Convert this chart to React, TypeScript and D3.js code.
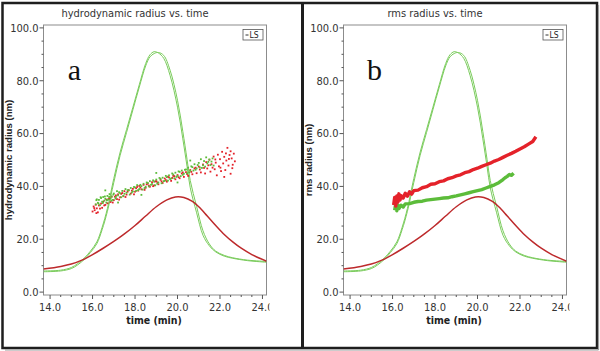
import React from 'react'
import * as d3 from 'd3'

// LS detector trace (two overlaid runs) and RI trace, plotted on the radius axis
const lsTime = [13.69, 14.5, 15.0, 15.3, 15.6, 15.9, 16.2, 16.45, 16.7, 17.0, 17.3, 17.6, 17.9, 18.2, 18.5, 18.7, 18.9, 19.1, 19.35, 19.65, 20.0, 20.25, 20.45, 20.6, 20.9, 21.2, 21.5, 21.8, 22.2, 22.6, 23.3, 24.19]
const lsRun1 = [8.0, 8.3, 9.3, 10.8, 12.8, 15.5, 19.0, 24.5, 31.7, 43.0, 53.0, 61.5, 70.0, 78.5, 86.5, 89.8, 91.0, 90.5, 88.5, 82.0, 70.0, 58.0, 47.5, 39.5, 30.0, 21.5, 17.5, 15.2, 13.6, 12.8, 11.9, 11.3]
const lsRun2 = [7.7, 8.0, 8.9, 10.3, 12.3, 15.0, 18.3, 23.6, 30.6, 41.5, 51.8, 60.4, 69.0, 77.6, 85.6, 89.0, 90.3, 90.7, 89.6, 84.0, 72.6, 60.8, 50.2, 42.2, 32.4, 23.2, 18.2, 15.5, 13.9, 13.0, 12.1, 11.6]

const riTime = [13.69, 14.5, 15.0, 15.5, 16.0, 16.5, 17.0, 17.5, 18.0, 18.5, 19.0, 19.5, 19.9, 20.3, 20.7, 21.0, 21.4, 21.8, 22.2, 22.6, 23.0, 23.5, 24.19]
const riValue = [8.7, 9.7, 10.6, 12.1, 14.2, 16.6, 19.2, 22.0, 25.2, 28.8, 32.3, 34.9, 36.0, 35.8, 34.3, 32.3, 28.8, 25.2, 21.8, 19.0, 16.6, 14.2, 11.7]

// panel a: hydrodynamic radius scatter
const rhGreenT = [16.15, 16.2, 16.25, 16.3, 16.35, 16.4, 16.45, 16.5, 16.55, 16.6, 16.65, 16.7, 16.75, 16.8, 16.85, 16.9, 16.95, 17.0, 17.1, 17.15, 17.2, 17.3, 17.35, 17.4, 17.5, 17.55, 17.6, 17.7, 17.75, 17.8, 17.9, 18.0, 18.05, 18.1, 18.2, 18.3, 18.35, 18.4, 18.5, 18.6, 18.65, 18.7, 18.8, 18.9, 18.95, 19.0, 19.1, 19.2, 19.25, 19.3, 19.4, 19.5, 19.55, 19.6, 19.7, 19.8, 19.85, 19.9, 20.0, 20.1, 20.15, 20.2, 20.3, 20.4, 20.45, 20.5, 20.6, 20.7, 20.75, 20.8, 20.9, 21.0, 21.05, 21.1, 21.2, 21.25, 21.3, 21.35, 21.4, 21.5, 21.55, 21.6, 21.7, 16.6, 17.2, 18.3, 19.0, 20.0, 20.6,
  16.18, 16.28, 16.38, 16.48, 16.58, 16.68, 16.78, 16.88, 16.98, 17.08, 17.25, 17.45, 17.65, 17.85, 17.95, 18.15, 18.25, 18.45, 18.55, 18.75, 18.85, 19.05, 19.15, 19.35, 19.45, 19.65, 19.75, 19.95, 20.05, 20.25, 20.35, 20.55, 20.65, 20.85, 20.95, 21.15, 21.45, 21.65]
const rhGreenV = [33.2, 35.1, 33.8, 34.9, 32.9, 35.6, 34.2, 36.0, 34.6, 35.3, 33.9, 36.4, 35.0, 37.1, 35.4, 36.2, 34.9, 37.3, 36.0, 38.2, 36.6, 37.4, 35.9, 38.3, 37.2, 39.0, 37.6, 38.5, 36.9, 39.4, 38.1, 39.6, 38.3, 40.5, 39.0, 40.1, 38.8, 41.0, 39.9, 41.3, 40.0, 42.0, 40.9, 41.8, 40.4, 42.6, 41.5, 42.9, 41.2, 43.3, 42.1, 43.5, 42.2, 44.2, 43.0, 44.5, 43.1, 45.2, 44.0, 45.5, 43.9, 46.0, 44.8, 46.4, 45.0, 47.1, 45.9, 47.3, 46.0, 48.4, 46.8, 48.9, 47.2, 50.3, 48.0, 49.6, 47.5, 51.0, 48.7, 50.2, 48.1, 49.4, 47.9, 38.5, 33.9, 36.8, 45.1, 41.5, 49.8,
  34.8, 33.5, 35.9, 33.7, 36.2, 34.8, 36.0, 34.6, 36.9, 35.4, 37.8, 36.4, 38.6, 37.7, 39.8, 38.6, 40.6, 39.4, 41.5, 40.6, 42.3, 41.0, 43.2, 42.0, 44.0, 42.8, 44.9, 43.6, 45.7, 44.4, 46.3, 45.3, 47.6, 46.3, 48.1, 47.0, 49.3, 50.6]
const rhRedT = [16.0, 16.05, 16.1, 16.15, 16.2, 16.25, 16.3, 16.4, 16.45, 16.5, 16.6, 16.65, 16.7, 16.8, 16.85, 16.9, 17.0, 17.1, 17.15, 17.2, 17.3, 17.4, 17.45, 17.5, 17.6, 17.7, 17.8, 17.9, 18.0, 18.1, 18.15, 18.2, 18.3, 18.4, 18.5, 18.6, 18.7, 18.8, 18.9, 19.0, 19.1, 19.2, 19.3, 19.4, 19.5, 19.6, 19.7, 19.8, 19.9, 20.0, 20.1, 20.2, 20.3, 20.4, 20.5, 20.6, 20.7, 20.8, 20.9, 21.0, 21.1, 21.2, 21.3, 21.35, 21.4, 21.5, 21.55, 21.6, 21.7, 21.75, 21.8, 21.85, 21.9, 21.95, 22.0, 22.05, 22.1, 22.15, 22.2, 22.25, 22.3, 22.35, 22.4, 22.45, 22.5, 22.55, 22.6, 22.65, 22.7, 22.2, 22.5,
  16.08, 16.18, 16.35, 16.55, 16.75, 16.95, 17.05, 17.25, 17.35, 17.55, 17.65, 17.85, 17.95, 18.05, 18.25, 18.45, 18.55, 18.65, 18.85, 18.95, 19.05, 19.25, 19.45, 19.55, 19.75, 19.85, 20.05, 20.25, 20.45, 20.65, 20.85, 21.05, 21.25, 21.45, 21.65, 21.78, 22.02, 22.28, 22.42, 22.58]
const rhRedV = [30.5, 32.4, 31.0, 33.1, 31.7, 30.2, 32.8, 33.5, 31.9, 34.2, 33.0, 35.0, 33.6, 35.5, 34.1, 36.1, 34.8, 36.6, 35.2, 37.0, 35.9, 37.5, 36.3, 38.2, 36.9, 38.6, 37.3, 39.1, 38.0, 39.8, 38.4, 40.2, 38.9, 40.6, 39.5, 41.1, 39.9, 41.6, 40.4, 42.0, 40.8, 42.5, 41.3, 43.0, 41.8, 43.4, 42.1, 44.0, 42.7, 44.3, 43.1, 44.9, 43.6, 45.4, 44.0, 46.2, 44.6, 46.8, 45.0, 47.5, 45.3, 48.3, 44.9, 49.2, 46.8, 50.1, 45.6, 48.4, 51.3, 46.5, 49.0, 44.2, 52.0, 47.6, 50.3, 45.8, 53.1, 48.7, 51.2, 46.2, 49.8, 54.6, 47.9, 51.9, 44.8, 50.6, 48.2, 52.4, 49.5, 43.6, 53.3,
  31.8, 29.9, 31.6, 32.8, 35.2, 33.9, 36.1, 35.0, 37.2, 36.0, 38.0, 38.4, 37.0, 39.3, 39.6, 38.7, 40.8, 40.3, 40.1, 41.9, 41.5, 41.9, 42.4, 43.7, 43.2, 43.9, 43.5, 45.3, 44.7, 45.5, 47.1, 46.4, 47.0, 48.0, 47.1, 50.2, 47.1, 52.5, 50.4, 46.9]

// panel b: rms radius traces
const rgRedT = [16.05, 16.1, 16.15, 16.2, 16.25, 16.3, 16.35, 16.4, 16.5, 16.6, 16.7, 16.8, 16.9, 17.0, 17.2, 17.4, 17.6, 17.8, 18.0, 18.2, 18.4, 18.6, 18.8, 19.0, 19.2, 19.4, 19.6, 19.8, 20.0, 20.2, 20.4, 20.6, 20.8, 21.0, 21.2, 21.4, 21.6, 21.8, 22.0, 22.2, 22.4, 22.6, 22.75]
const rgRedV = [33.0, 35.8, 32.6, 36.4, 34.1, 37.2, 34.8, 36.5, 35.6, 37.4, 36.3, 38.0, 37.1, 38.4, 38.6, 39.5, 39.9, 40.8, 41.0, 41.8, 42.1, 42.9, 43.3, 44.0, 44.4, 45.2, 45.6, 46.4, 46.9, 47.6, 48.2, 48.8, 49.6, 50.2, 51.0, 51.8, 52.5, 53.3, 54.2, 55.0, 56.0, 57.0, 58.8]
const rgGreenT = [16.1, 16.15, 16.2, 16.25, 16.3, 16.4, 16.5, 16.6, 16.8, 17.0, 17.2, 17.4, 17.6, 17.8, 18.0, 18.2, 18.4, 18.6, 18.8, 19.0, 19.2, 19.4, 19.6, 19.8, 20.0, 20.2, 20.4, 20.6, 20.8, 21.0, 21.1, 21.2, 21.3, 21.4, 21.5, 21.6, 21.7]
const rgGreenV = [31.0, 33.5, 30.8, 33.0, 31.6, 32.9, 32.2, 33.4, 33.5, 34.0, 34.3, 34.4, 34.8, 35.0, 35.2, 35.4, 35.6, 35.7, 36.1, 36.4, 36.8, 37.2, 37.6, 38.0, 38.4, 38.8, 39.4, 40.0, 40.6, 41.4, 42.0, 42.6, 43.3, 43.8, 44.5, 44.2, 45.0]

const yMajor = [0, 20, 40, 60, 80, 100]
const xMajor = [14, 16, 18, 20, 22, 24]

const NARROW = "'Liberation Sans Narrow', 'DejaVu Sans Condensed', 'Liberation Sans', Arial, sans-serif"
const GREEN_LS = '#7acb5c'
const RED_RI = '#bd2a2c'
const RED_PT = '#e4222a'
const GREEN_PT = '#5cbc3a'

type Pt = [number, number]
const zip = (t: number[], v: number[]): Pt[] => t.map((d, i) => [d, v[i]])

interface PanelProps {
  id: string
  dx: number
  title: string
  yLabel: string
  letter: string
  dots?: { t: number[]; v: number[]; color: string }[]
  traces?: { t: number[]; v: number[]; color: string }[]
}

function Panel({ id, dx, title, yLabel, letter, dots = [], traces = [] }: PanelProps) {
  const left = 43.5, right = 266.5, top = 25, bottom = 295
  const x = d3.scaleLinear().domain([13.69, 24.19]).range([left, right])
  const y = d3.scaleLinear().domain([-1.1, 101.1]).range([bottom, top])

  const smooth = d3.line<Pt>().x(d => x(d[0])).y(d => y(d[1])).curve(d3.curveCatmullRom.alpha(0.5))
  const rough = d3.line<Pt>().x(d => x(d[0])).y(d => y(d[1]))

  const yMinor = d3.range(0, 101, 5).filter(v => v % 20 !== 0)
  const xMinor = d3.range(14, 24.3, 0.5).filter(v => Math.abs(v % 2) > 0.01)

  return (
    <g transform={`translate(${dx},0)`}>
      <defs>
        <clipPath id={`plot-${id}`}>
          <rect x={left} y={top} width={right - left} height={bottom - top} />
        </clipPath>
        <clipPath id={`lbl-${id}`}>
          <rect x={0} y={0} width={right + 3} height={351} />
        </clipPath>
      </defs>

      <text x={135} y={16.5} textAnchor="middle" fontFamily={NARROW} fontSize={11} fill="#333">{title}</text>

      <rect x={left} y={top} width={right - left} height={bottom - top} fill="#fff" stroke="#8c8c8c" strokeWidth={1} />

      {/* y axis */}
      <g stroke="#555" strokeWidth={1}>
        {yMajor.map(v => <line key={v} x1={left - 4} x2={left} y1={y(v)} y2={y(v)} />)}
        {yMinor.map(v => <line key={v} x1={left - 2} x2={left} y1={y(v)} y2={y(v)} />)}
      </g>
      <g fontFamily={NARROW} fontSize={11} fill="#333" textAnchor="end">
        {yMajor.map(v => <text key={v} x={left - 5} y={y(v) + 3.8}>{d3.format('.1f')(v)}</text>)}
      </g>
      <text transform={`translate(11.5,160) rotate(-90)`} textAnchor="middle" fontFamily="'Liberation Sans', Arial, sans-serif" fontWeight="bold" fontSize={9.6} fill="#222">{yLabel}</text>

      {/* x axis */}
      <g stroke="#555" strokeWidth={1}>
        {xMajor.map(v => <line key={v} x1={x(v)} x2={x(v)} y1={bottom} y2={bottom + 4} />)}
        {xMinor.map(v => <line key={v} x1={x(v)} x2={x(v)} y1={bottom} y2={bottom + 2} />)}
      </g>
      <g fontFamily={NARROW} fontSize={11} fill="#333" textAnchor="middle" clipPath={`url(#lbl-${id})`}>
        {xMajor.map(v => <text key={v} x={x(v)} y={311}>{d3.format('.1f')(v)}</text>)}
      </g>
      <text x={154} y={324} textAnchor="middle" fontFamily={NARROW} fontWeight="bold" fontSize={10.5} fill="#222">time (min)</text>

      <g clipPath={`url(#plot-${id})`}>
        <path d={smooth(zip(lsTime, lsRun1)) ?? ''} fill="none" stroke={GREEN_LS} strokeWidth={1} />
        <path d={smooth(zip(lsTime, lsRun2)) ?? ''} fill="none" stroke={GREEN_LS} strokeWidth={1} />
        <path d={smooth(zip(riTime, riValue)) ?? ''} fill="none" stroke={RED_RI} strokeWidth={1.5} />
        {traces.map((s, i) => (
          <path key={i} d={rough(zip(s.t, s.v)) ?? ''} fill="none" stroke={s.color} strokeWidth={3.4} strokeLinejoin="round" />
        ))}
        {dots.map((s, i) => (
          <g key={i} fill={s.color}>
            {s.t.map((t, j) => <rect key={j} x={x(t) - 0.9} y={y(s.v[j]) - 0.9} width={1.8} height={1.8} />)}
          </g>
        ))}
      </g>

      {/* legend */}
      <rect x={243} y={29.5} width={20} height={10.5} fill="#fff" stroke="#555" strokeWidth={0.8} />
      <line x1={245.5} x2={248.5} y1={35} y2={35} stroke="#333" strokeWidth={1} />
      <text x={249.5} y={38} fontFamily={NARROW} fontSize={8.5} fill="#222">LS</text>

      <text x={74.5} y={80} textAnchor="middle" fontFamily="'Liberation Serif', 'Times New Roman', serif" fontSize={30} fill="#111">{letter}</text>
    </g>
  )
}

export default function App() {
  return (
    <svg width={600} height={351} style={{ position: 'absolute', left: 0, top: 0, background: '#fff' }}>
      <rect x={0} y={0} width={600} height={351} fill="#fff" />
      <Panel
        id="a"
        dx={0}
        title="hydrodynamic radius vs. time"
        yLabel="hydrodynamic radius (nm)"
        letter="a"
        dots={[
          { t: rhRedT, v: rhRedV, color: RED_PT },
          { t: rhGreenT, v: rhGreenV, color: GREEN_PT },
        ]}
      />
      <Panel
        id="b"
        dx={300}
        title="rms radius vs. time"
        yLabel="rms radius (nm)"
        letter="b"
        traces={[
          { t: rgGreenT, v: rgGreenV, color: GREEN_PT },
          { t: rgRedT, v: rgRedV, color: RED_PT },
        ]}
      />
      {/* outer frames */}
      <rect x={2.5} y={3} width={594.5} height={345} fill="none" stroke="#1e1e1e" strokeWidth={2.5} />
      <line x1={302.5} x2={302.5} y1={3} y2={348} stroke="#1e1e1e" strokeWidth={3} />
      <line x1={598.5} x2={598.5} y1={5} y2={350} stroke="#9a9a9a" strokeWidth={1.2} />
      <line x1={5} x2={598.5} y1={350} y2={350} stroke="#9a9a9a" strokeWidth={1.2} />
    </svg>
  )
}
